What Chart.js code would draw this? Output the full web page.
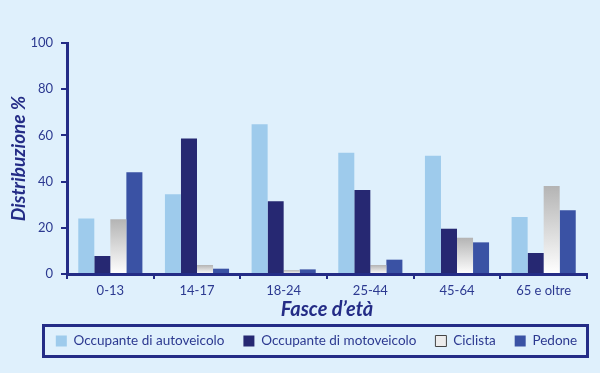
<!DOCTYPE html>
<html>
  <head>
    <meta charset="UTF-8" />
    <script src="https://cdn.jsdelivr.net/npm/chart.js"></script>
    <style>
      body {
        margin: 0;
        background: #dff0fc;
      }
    </style>
  </head>
  <body>
    <canvas id="chart" width="600" height="373"></canvas>
    <script>
      const categories = ["0-13", "14-17", "18-24", "25-44", "45-64", "65 e oltre"];
      const autoveicolo = [24, 34.5, 64.8, 52.5, 51.2, 24.7];
      const motoveicolo = [7.8, 58.7, 31.5, 36.4, 19.6, 9.1];
      const ciclista = [23.7, 3.9, 1.7, 3.9, 15.7, 38.1];
      const pedone = [44, 2.3, 2, 6.2, 13.7, 27.6];

      const navy = "#242c86";
      const textColor = "#2c3990";
      const font = "Lato";

      // grey bars fade to white towards the axis
      const greyFade = (ctx) => {
        const chart = ctx.chart;
        if (!chart.chartArea || ctx.dataIndex === undefined) return "#cfcfcf";
        const y = chart.scales.y;
        const top = y.getPixelForValue(ctx.raw);
        const bottom = y.getPixelForValue(0);
        const g = chart.ctx.createLinearGradient(0, top, 0, bottom);
        g.addColorStop(0, "#b4b4b4");
        g.addColorStop(1, "#ffffff");
        return g;
      };

      const background = {
        id: "background",
        afterLayout(chart) {
          // legend sits a little right of the canvas centre
          chart.legend.left += 23;
          chart.legend.right += 23;
        },
        beforeDraw(chart) {
          const c = chart.ctx;
          c.save();
          c.fillStyle = "#dff0fc";
          c.fillRect(0, 0, chart.width, chart.height);
          c.restore();
        },
        afterDraw(chart) {
          // frame round the legend
          const c = chart.ctx;
          c.save();
          c.strokeStyle = navy;
          c.lineWidth = 3;
          c.strokeRect(43.5, 325.5, 544, 31);
          c.restore();
        },
      };

      new Chart(document.getElementById("chart"), {
        type: "bar",
        data: {
          labels: categories,
          datasets: [
            { label: "Occupante di autoveicolo", data: autoveicolo, backgroundColor: "#9ecbec" },
            { label: "Occupante di motoveicolo", data: motoveicolo, backgroundColor: "#262872" },
            { label: "Ciclista", data: ciclista, backgroundColor: greyFade },
            { label: "Pedone", data: pedone, backgroundColor: "#3a52a4" },
          ],
        },
        options: {
          responsive: false,
          animation: false,
          layout: { padding: { top: 43, right: 13, bottom: 15.25, left: 0 } },
          datasets: {
            bar: { categoryPercentage: 0.74, barPercentage: 1.0, borderWidth: 0 },
          },
          plugins: {
            tooltip: { enabled: false },
            legend: {
              position: "bottom",
              labels: {
                boxWidth: 11,
                boxHeight: 11,
                padding: 19,
                color: textColor,
                font: { family: font, size: 13.5 },
                generateLabels(chart) {
                  const items = Chart.defaults.plugins.legend.labels.generateLabels(chart);
                  items.forEach((item) => {
                    item.lineWidth = 0;
                    if (item.text === "Ciclista") {
                      item.fillStyle = "#ececec";
                      item.strokeStyle = "#444";
                      item.lineWidth = 1;
                    }
                  });
                  return items;
                },
              },
            },
          },
          scales: {
            x: {
              z: 1,
              afterFit: (scale) => {
                scale.height = 41.25;
              },
              border: { color: navy, width: 3 },
              grid: {
                offset: true,
                drawOnChartArea: false,
                color: navy,
                lineWidth: 2,
                tickLength: 5,
              },
              ticks: { color: textColor, padding: 4, font: { family: font, size: 13 } },
              title: {
                display: true,
                text: "Fasce d’età",
                color: navy,
                padding: { top: 0, bottom: -4 },
                font: { family: font, size: 20, style: "italic", weight: "bold", lineHeight: 1 },
              },
            },
            y: {
              z: 1,
              min: 0,
              max: 100,
              afterFit: (scale) => {
                scale.width = 67;
              },
              border: { color: navy, width: 3 },
              grid: {
                drawOnChartArea: false,
                color: navy,
                lineWidth: 2,
                tickLength: 6,
              },
              ticks: { stepSize: 20, color: textColor, padding: 8, font: { family: font, size: 13 } },
              title: {
                display: true,
                text: "Distribuzione %",
                color: navy,
                padding: { top: 9, bottom: 0 },
                font: { family: font, size: 19, style: "italic", weight: "bold", lineHeight: 1 },
              },
            },
          },
        },
        plugins: [background],
      });
    </script>
  </body>
</html>
